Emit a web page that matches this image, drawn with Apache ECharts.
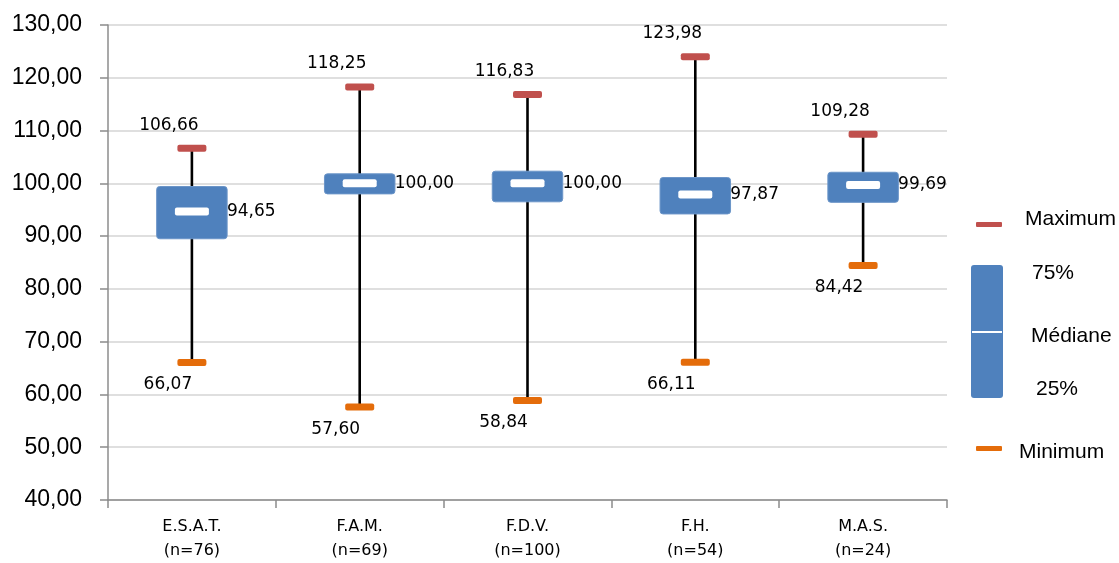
<!DOCTYPE html>
<html>
<head>
<meta charset="utf-8">
<script src="https://cdn.jsdelivr.net/npm/echarts@6/dist/echarts.min.js"></script>
<style>
  html, body { margin: 0; padding: 0; background: #ffffff; }
  #chart { width: 1119px; height: 563px; }
</style>
</head>
<body>
<div id="chart"></div>
<script>
// Structures and sample sizes
const groups = ['E.S.A.T.', 'F.A.M.', 'F.D.V.', 'F.H.', 'M.A.S.'];
const sampleSizes = [76, 69, 100, 54, 24];

// Five-number summaries per structure
const minimum = [66.07, 57.60, 58.84, 66.11, 84.42];
const quartile1 = [89.5, 98.0, 96.5, 94.2, 96.4];
const median = [94.65, 100.00, 100.00, 97.87, 99.69];
const quartile3 = [99.4, 101.8, 102.3, 101.1, 102.1];
const maximum = [106.66, 118.25, 116.83, 123.98, 109.28];

// Value axis ticks
const yTicks = { min: 40, max: 130, interval: 10 };

const BLUE = '#4F81BD';
const RED = '#C0504D';
const ORANGE = '#E46C0A';
const LABEL_FONT = '17px "DejaVu Sans", sans-serif';

const fmt = v => v.toFixed(2).replace('.', ',');

const categories = groups.map((g, i) => g + '\n(n=' + sampleSizes[i] + ')');
const boxData = groups.map((g, i) => [i, minimum[i], quartile1[i], median[i], quartile3[i], maximum[i]]);

function renderBox(params, api) {
  const idx = api.value(0);
  const vMin = api.value(1), vQ1 = api.value(2), vMed = api.value(3), vQ3 = api.value(4), vMax = api.value(5);
  const x = api.coord([idx, vMed])[0];
  const yMin = api.coord([idx, vMin])[1];
  const yQ1 = api.coord([idx, vQ1])[1];
  const yMed = api.coord([idx, vMed])[1];
  const yQ3 = api.coord([idx, vQ3])[1];
  const yMax = api.coord([idx, vMax])[1];
  const band = api.size([1, 0])[0];
  const boxW = band * 0.42;
  const capW = 29, capH = 7;
  const medW = 34, medH = 8;

  const text = (str, tx, ty, align) => ({
    type: 'text',
    z2: 20,
    style: {
      text: str, x: tx, y: ty,
      align: align, verticalAlign: 'middle',
      font: LABEL_FONT, fill: '#000000'
    }
  });

  return {
    type: 'group',
    children: [
      { type: 'line', z2: 1, shape: { x1: x, y1: yMin, x2: x, y2: yMax },
        style: { stroke: '#000000', lineWidth: 2.6 } },
      { type: 'rect', z2: 5, shape: { x: x - boxW / 2, y: yQ3, width: boxW, height: yQ1 - yQ3, r: 3 },
        style: { fill: BLUE, stroke: '#6b95c8', lineWidth: 1 } },
      { type: 'rect', z2: 6, shape: { x: x - medW / 2, y: yMed - medH / 2, width: medW, height: medH, r: 2 },
        style: { fill: '#ffffff' } },
      { type: 'rect', z2: 5, shape: { x: x - capW / 2, y: yMax - capH / 2, width: capW, height: capH, r: 2 },
        style: { fill: RED } },
      { type: 'rect', z2: 5, shape: { x: x - capW / 2, y: yMin - capH / 2, width: capW, height: capH, r: 2 },
        style: { fill: ORANGE } },
      text(fmt(vMax), x - 23, yMax - 23, 'center'),
      text(fmt(vMin), x - 24, yMin + 22, 'center'),
      text(fmt(vMed), x + 35, yMed, 'left')
    ]
  };
}

const chart = echarts.init(document.getElementById('chart'), null, { renderer: 'canvas' });

// Legend entries are drawn as graphics; text is placed by its vertical centre
const legendFont = '21px "Liberation Sans", Arial, sans-serif';
const legendText = (str, x, cy) => ({
  type: 'text', left: x, top: cy - 9,
  style: { text: str, font: legendFont, fill: '#000000' }
});

chart.setOption({
  backgroundColor: '#ffffff',
  animation: false,
  grid: { left: 108, right: 172, top: 25, bottom: 62, containLabel: false },
  xAxis: {
    type: 'category',
    data: categories,
    axisLine: { show: true, lineStyle: { color: '#8c8c8c', width: 1.5 } },
    axisTick: { show: true, alignWithLabel: false, length: 8, lineStyle: { color: '#8c8c8c', width: 1.5 } },
    axisLabel: {
      margin: 15,
      lineHeight: 24,
      color: '#000000',
      fontFamily: '"DejaVu Sans", sans-serif',
      fontSize: 16
    },
    splitLine: { show: false }
  },
  yAxis: {
    type: 'value',
    min: yTicks.min,
    max: yTicks.max,
    interval: yTicks.interval,
    axisLine: { show: true, lineStyle: { color: '#8c8c8c', width: 1.5 } },
    axisTick: { show: true, length: 8, lineStyle: { color: '#8c8c8c', width: 1.5 } },
    axisLabel: {
      margin: 26,
      color: '#000000',
      fontFamily: '"Liberation Sans", Arial, sans-serif',
      fontSize: 23,
      formatter: v => fmt(v)
    },
    splitLine: { show: true, lineStyle: { color: '#d4d4d4', width: 1.5 } }
  },
  series: [{
    type: 'custom',
    name: 'Distribution',
    renderItem: renderBox,
    encode: { x: 0, y: [1, 2, 3, 4, 5] },
    data: boxData,
    clip: false
  }],
  graphic: [
    { type: 'rect', left: 976, top: 222, shape: { width: 26, height: 5, r: 1 }, style: { fill: RED } },
    legendText('Maximum', 1025, 218),
    { type: 'rect', left: 971, top: 265, shape: { width: 32, height: 133, r: 3 }, style: { fill: BLUE } },
    { type: 'rect', left: 972, top: 331, shape: { width: 30, height: 2 }, style: { fill: '#ffffff' } },
    legendText('75%', 1032, 272),
    legendText('Médiane', 1031, 335),
    legendText('25%', 1036, 388),
    { type: 'rect', left: 976, top: 446, shape: { width: 26, height: 5, r: 1 }, style: { fill: ORANGE } },
    legendText('Minimum', 1019, 451)
  ]
});
</script>
</body>
</html>
